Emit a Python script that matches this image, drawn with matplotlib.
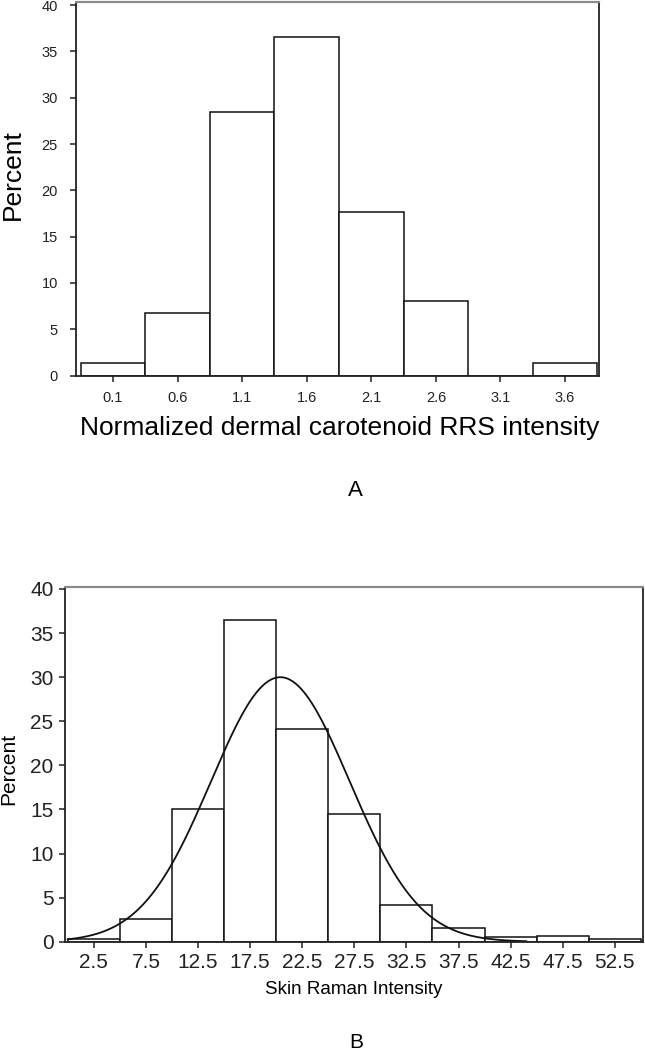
import numpy as np
import matplotlib
matplotlib.use("Agg")
import matplotlib.pyplot as plt

# panel A: normalized dermal carotenoid RRS intensity
a_edges = [-0.15, 0.35, 0.85, 1.35, 1.85, 2.35, 2.85, 3.35, 3.85]
a_pct = [1.3, 6.7, 28.5, 36.6, 17.7, 8.1, 0.0, 1.3]
a_ticks = [0.1, 0.6, 1.1, 1.6, 2.1, 2.6, 3.1, 3.6]

# panel B: skin Raman intensity
b_edges = [0, 5, 10, 15, 20, 25, 30, 35, 40, 45, 50, 55]
b_pct = [0.3, 2.6, 15.0, 36.5, 24.1, 14.5, 4.2, 1.6, 0.5, 0.6, 0.3]
b_ticks = [2.5, 7.5, 12.5, 17.5, 22.5, 27.5, 32.5, 37.5, 42.5, 47.5, 52.5]
# fitted normal curve
b_mean = 20.4
b_sd = 6.65
b_curve_range = (0.0, 44.0)

y_ticks = [0, 5, 10, 15, 20, 25, 30, 35, 40]

plt.rcParams['font.family'] = ['Liberation Sans', 'DejaVu Sans']

W, H = 645, 1050
fig = plt.figure(figsize=(W / 100, H / 100), dpi=100)


def box(l, t, r, b):
    return [l / W, 1 - b / H, (r - l) / W, (b - t) / H]


def style(ax, fs, pad_x, pad_y, tlen):
    for s in ax.spines.values():
        s.set_color('#222222')
        s.set_linewidth(1.3)
    ax.spines['top'].set_color('#8a8a8a')
    ax.spines['top'].set_linewidth(1.6)
    ax.tick_params(axis='x', direction='out', length=tlen, width=1.1, pad=pad_x,
                   labelsize=fs, colors='#222222')
    ax.tick_params(axis='y', direction='out', length=tlen, width=1.1, pad=pad_y,
                   labelsize=fs, colors='#222222')


# ---- A ----
axA = fig.add_axes(box(76, 1.5, 599, 375.5))
axA.hist(a_edges[:-1], bins=a_edges, weights=a_pct, histtype='bar',
         facecolor='white', edgecolor='#111111', linewidth=1.1)
axA.set_xlim(-0.187, 3.863)
axA.set_ylim(0, 40.4)
axA.set_xticks(a_ticks)
axA.set_xticklabels([f"{t:.1f}" for t in a_ticks])
axA.set_yticks(y_ticks)
style(axA, 10.5, 7.5, 9, 4)
fig.text(13 / W, 1 - 175 / H, "Percent", rotation=90, fontsize=19,
         ha='center', va='center')
fig.text(340 / W, 1 - 428 / H, "Normalized dermal carotenoid RRS intensity",
         fontsize=19, ha='center', va='center')
fig.text(355 / W, 1 - 491 / H, "A", fontsize=16, ha='center', va='center')

# ---- B ----
axB = fig.add_axes(box(64.6, 586.7, 643, 941.7))
axB.hist(b_edges[:-1], bins=b_edges, weights=b_pct, histtype='bar',
         facecolor='white', edgecolor='#111111', linewidth=1.1)
xs = np.linspace(b_curve_range[0], b_curve_range[1], 300)
bw = b_edges[1] - b_edges[0]
ys = 100 * bw * np.exp(-0.5 * ((xs - b_mean) / b_sd) ** 2) / (b_sd * np.sqrt(2 * np.pi))
axB.plot(xs, ys, color='#111111', linewidth=1.3)
axB.set_xlim(-0.3, 55.2)
axB.set_ylim(0, 40.26)
axB.set_xticks(b_ticks)
axB.set_xticklabels([f"{t:.1f}" for t in b_ticks])
axB.set_yticks(y_ticks)
style(axB, 15, 4, 4, 4)
fig.text(9 / W, 1 - 769 / H, "Percent", rotation=90, fontsize=15,
         ha='center', va='center')
fig.text(354 / W, 1 - 990 / H, "Skin Raman Intensity", fontsize=13.5,
         ha='center', va='center')
fig.text(356 / W, 1 - 1042 / H, "B", fontsize=15, ha='center', va='center')

fig.savefig("out.png", dpi=100)
